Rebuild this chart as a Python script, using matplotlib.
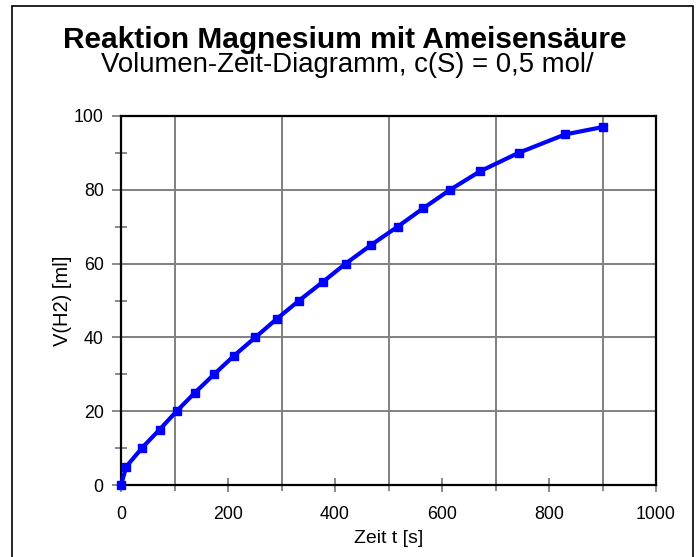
#!/usr/bin/env python3
# -*- coding: utf-8 -*-
"""
Volumen-Zeit-Diagramm: Reaktion Magnesium mit Ameisensäure
"""

import matplotlib
matplotlib.use("Agg")
import matplotlib.pyplot as plt
from matplotlib.patches import Rectangle
from matplotlib.ticker import MultipleLocator

# Messwerte
zeit_s = [0, 10, 39, 72, 104, 138, 174, 211, 251, 291, 333, 377, 420,
          467, 517, 565, 615, 671, 743, 830, 900]
volumen_ml = [0, 5, 10, 15, 20, 25, 30, 35, 40, 45, 50, 55, 60,
              65, 70, 75, 80, 85, 90, 95, 97]

titel = "Reaktion Magnesium mit Ameisensäure"
untertitel = "Volumen-Zeit-Diagramm, c(S) = 0,5 mol/"
x_label = "Zeit t [s]"
y_label = "V(H2) [ml]"

plt.rcParams['font.family'] = ['Liberation Sans', 'DejaVu Sans']

fig = plt.figure(figsize=(6.96, 5.57), dpi=100)
ax = fig.add_axes([121 / 696, 1 - 485 / 557, 535 / 696, 369 / 557])

grau = '#808080'

# Rahmen um das ganze Bild (unten offen)
fig.patches.append(Rectangle((11.5 / 696, -0.05), 681 / 696, 1.05 - 6 / 557,
                             transform=fig.transFigure, fill=False,
                             edgecolor='black', linewidth=1.2))

# Titel
fig.text(0.496, 0.914, titel, ha='center', va='baseline',
         fontsize=21.5, fontweight='bold')
fig.text(0.499, 0.870, untertitel, ha='center', va='baseline', fontsize=19.8)

# Messkurve
ax.plot(zeit_s, volumen_ml, color='#0000ff', linewidth=3,
        marker='s', markersize=5.5, clip_on=False, zorder=5)

ax.set_xlim(0, 1000)
ax.set_ylim(0, 100)

# Achsen-Teilung
ax.xaxis.set_major_locator(MultipleLocator(200))
ax.xaxis.set_minor_locator(MultipleLocator(100))
ax.yaxis.set_major_locator(MultipleLocator(20))
ax.yaxis.set_minor_locator(MultipleLocator(10))

ax.tick_params(axis='x', which='major', direction='inout', length=10,
               width=1.3, color=grau, labelsize=12.8, pad=10)
ax.tick_params(axis='x', which='minor', direction='out', length=4,
               width=1.3, color=grau)
ax.tick_params(axis='y', which='major', direction='out', length=6.5,
               width=1.3, color=grau, labelsize=12.8, pad=6)
ax.tick_params(axis='y', which='minor', direction='inout', length=8.5,
               width=1.3, color=grau)

# Gitter: senkrecht bei 100, 300, ..., waagerecht bei 20, 40, ...
ax.grid(False)
for xv in range(100, 1000, 200):
    ax.axvline(xv, color=grau, linewidth=1.4, zorder=1)
for yv in range(20, 100, 20):
    ax.axhline(yv, color=grau, linewidth=1.4, zorder=1)

for sp in ax.spines.values():
    sp.set_color('black')
    sp.set_linewidth(1.6)
    sp.set_zorder(4)

ax.set_xlabel(x_label, fontsize=14)
ax.set_ylabel(y_label, fontsize=14.5)
ax.xaxis.set_label_coords(0.5, -0.122)
ax.yaxis.set_label_coords(-0.092, 0.5)

plt.savefig("out.png", dpi=100)
plt.close()
